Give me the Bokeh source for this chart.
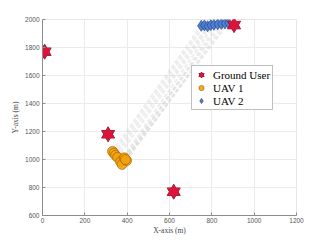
from bokeh.plotting import figure
from bokeh.models import Range1d, FixedTicker, Legend, LegendItem
from bokeh.embed import file_html
from bokeh.resources import INLINE

# ground users
gu_x = [10, 310, 620, 905]
gu_y = [1770, 1180, 770, 1960]

# UAV 1 positions
uav1_x = [331, 338, 345, 355, 369, 376, 387, 397, 392]
uav1_y = [1058, 1045, 1030, 1015, 984, 965, 1012, 992, 1000]

# UAV 2 positions
uav2_x = [750, 765, 780, 795, 810, 828, 845, 862, 878]
uav2_y = [1955, 1958, 1952, 1960, 1963, 1966, 1968, 1972, 1975]

x_ticks = [0, 200, 400, 600, 800, 1000, 1200]
y_ticks = [600, 800, 1000, 1200, 1400, 1600, 1800, 2000]

p = figure(width=311, height=237, output_backend="svg", toolbar_location=None,
           x_range=Range1d(0, 1200), y_range=Range1d(600, 2000),
           min_border_left=42, min_border_right=15, min_border_top=19, min_border_bottom=19)

p.outline_line_color = "#e6e6e6"
for ax, ticks in ((p.xaxis, x_ticks), (p.yaxis, y_ticks)):
    ax.ticker = FixedTicker(ticks=ticks)
    ax.major_tick_in = 3
    ax.major_tick_out = 0
    ax.minor_tick_line_color = None
    ax.axis_line_color = "#8c8c8c"
    ax.major_tick_line_color = "#8c8c8c"
    ax.major_label_text_font = "Liberation Sans"
    ax.major_label_text_font_size = "6.5px"
    ax.major_label_text_color = "#555555"
    ax.axis_label_text_font = "Liberation Serif"
    ax.axis_label_text_font_style = "normal"
    ax.axis_label_text_font_size = "7.5px"
    ax.axis_label_text_color = "#444444"

p.xaxis.major_label_standoff = 2
p.xaxis.axis_label_standoff = 0
p.yaxis.major_label_standoff = 3
p.yaxis.axis_label_standoff = 2
p.xaxis.axis_label = "X-axis (m)"
p.yaxis.axis_label = "Y-axis (m)"

p.grid.grid_line_color = "#ebebeb"
p.grid.grid_line_width = 1

# trajectories (dashed, light gray)
xs = [[a, b] for a, b in zip(uav1_x, uav2_x)]
ys = [[a, b] for a, b in zip(uav1_y, uav2_y)]
p.multi_line(xs, ys, line_color="#cccccc", line_alpha=0.35, line_width=2.2, line_dash="4 2")

r_u1 = p.scatter(uav1_x, uav1_y, marker="circle", size=10, fill_color="#f2a20c",
                 line_color="#9a5c00", line_width=0.6, fill_alpha=0.9)
r_u2 = p.scatter(uav2_x, uav2_y, marker="diamond", size=11, fill_color="#4f80d6",
                 line_color="#1e3a72", line_width=0.6)

# hexagram ground users: outlined triangles, then fill-only on top
gu_fill = "#dc143c"
gu_line = "#5a0d1a"
t1 = p.scatter(gu_x, gu_y, marker="triangle", size=13, fill_color=gu_fill, line_color=gu_line, line_width=0.8)
t2 = p.scatter(gu_x, gu_y, marker="inverted_triangle", size=13, fill_color=gu_fill, line_color=gu_line, line_width=0.8)
t3 = p.scatter(gu_x, gu_y, marker="triangle", size=13, fill_color=gu_fill, line_color=None)
t4 = p.scatter(gu_x, gu_y, marker="inverted_triangle", size=13, fill_color=gu_fill, line_color=None)

legend = Legend(items=[
    LegendItem(label="Ground User", renderers=[t1, t2, t3, t4]),
    LegendItem(label="UAV 1", renderers=[r_u1]),
    LegendItem(label="UAV 2", renderers=[r_u2]),
], location=(149, 105))
legend.label_text_font = "Liberation Serif"
legend.label_text_font_size = "11px"
legend.label_text_color = "#000000"
legend.glyph_width = 14
legend.glyph_height = 13
legend.label_height = 13
legend.label_standoff = 5
legend.spacing = 0
legend.padding = 2
legend.margin = 0
legend.border_line_color = "#7f7f7f"
legend.border_line_width = 1
legend.background_fill_color = "white"
legend.background_fill_alpha = 1
p.add_layout(legend, "center")

open("out.html", "w").write(file_html(p, INLINE))
